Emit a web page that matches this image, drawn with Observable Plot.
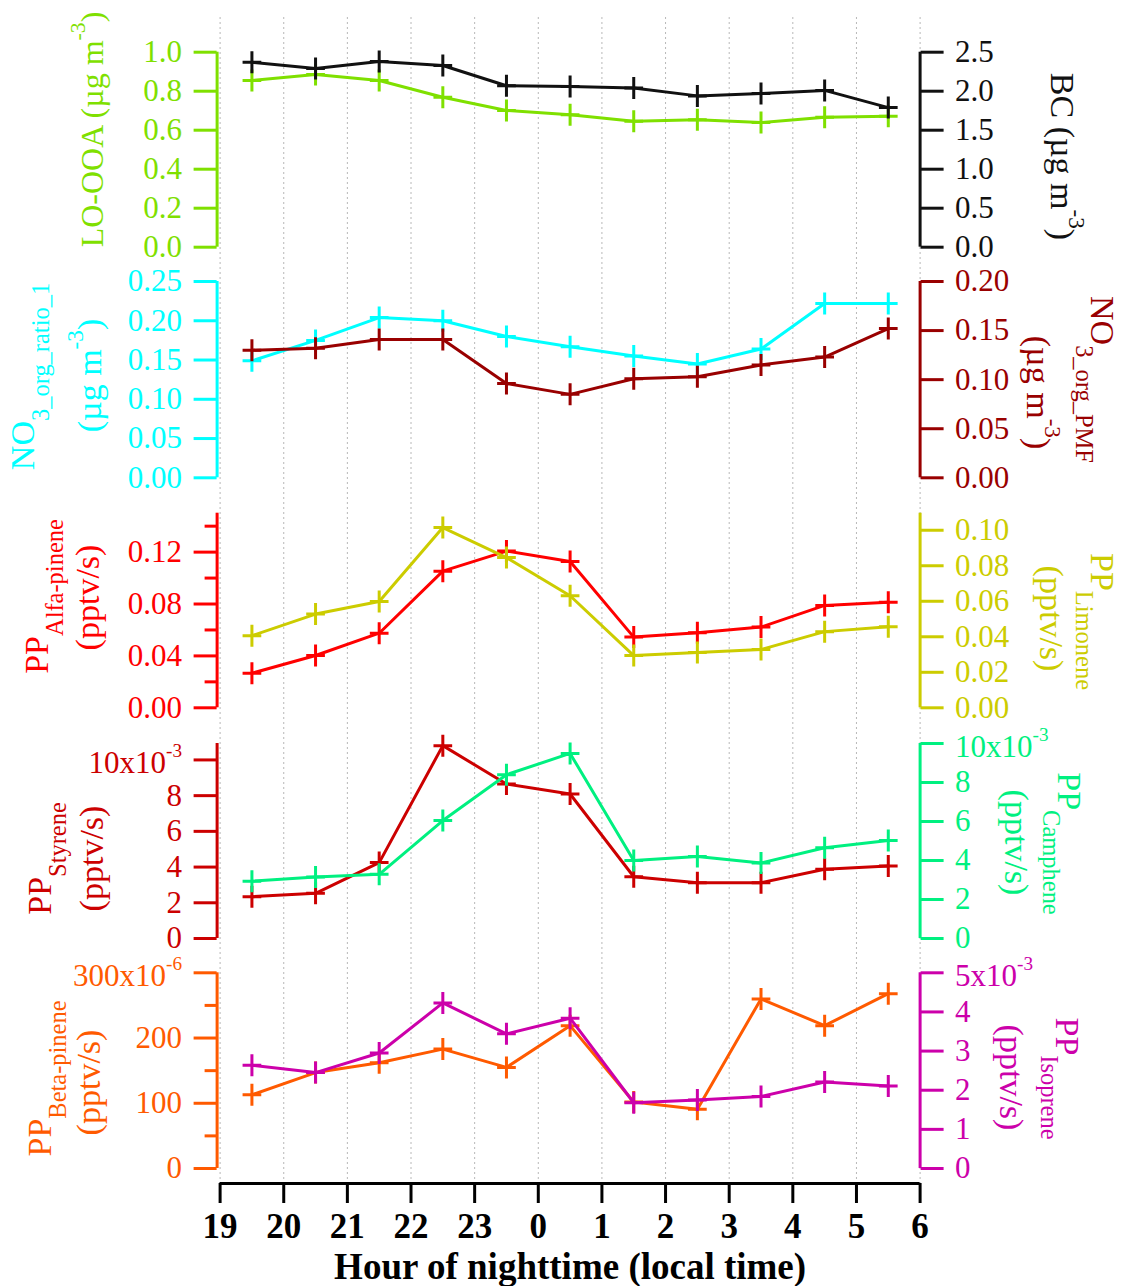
<!DOCTYPE html>
<html>
<head>
<meta charset="utf-8">
<script src="https://cdn.jsdelivr.net/npm/d3@7"></script>
<script src="https://cdn.jsdelivr.net/npm/@observablehq/plot@0.6"></script>
<style>
  body { margin: 0; background: #fff; }
  #chart { position: relative; width: 1121px; height: 1286px; font-family: "Liberation Serif", "Times New Roman", serif; }
  #chart svg { position: absolute; left: 0; top: 0; overflow: visible; }
  #chart svg, #chart svg text, #chart svg tspan, #chart svg g { font-family: "Liberation Serif", "Times New Roman", serif !important; font-variant: normal !important; }
</style>
</head>
<body>
<div id="chart"></div>
<script>
// ---------------- data ----------------
const hourLabels = ["19", "20", "21", "22", "23", "0", "1", "2", "3", "4", "5", "6"];
const hourMid = [0.5, 1.5, 2.5, 3.5, 4.5, 5.5, 6.5, 7.5, 8.5, 9.5, 10.5];
const xTitle = "Hour of nighttime (local time)";

const loOOA = [0.855, 0.886, 0.855, 0.769, 0.701, 0.679, 0.646, 0.653, 0.639, 0.667, 0.672];
const bc = [2.37, 2.29, 2.38, 2.33, 2.07, 2.06, 2.04, 1.94, 1.97, 2.01, 1.79];
const no3Ratio = [0.149, 0.175, 0.204, 0.200, 0.180, 0.167, 0.155, 0.145, 0.164, 0.222, 0.222];
const no3PMF = [0.130, 0.132, 0.141, 0.141, 0.096, 0.085, 0.101, 0.103, 0.115, 0.123, 0.152];
const alfaPinene = [0.0267, 0.0403, 0.0575, 0.1053, 0.1208, 0.1128, 0.0545, 0.0578, 0.0622, 0.0789, 0.0814];
const limonene = [0.0406, 0.0528, 0.0599, 0.1015, 0.0846, 0.0631, 0.0294, 0.0312, 0.0328, 0.0429, 0.0457];
const styrene = [2.34e-3, 2.53e-3, 4.25e-3, 10.8e-3, 8.65e-3, 8.09e-3, 3.46e-3, 3.12e-3, 3.12e-3, 3.88e-3, 4.06e-3];
const camphene = [2.94e-3, 3.15e-3, 3.29e-3, 6.05e-3, 8.40e-3, 9.49e-3, 4.00e-3, 4.21e-3, 3.87e-3, 4.65e-3, 5.03e-3];
const betaPinene = [113e-6, 147e-6, 162e-6, 183e-6, 155e-6, 219e-6, 102e-6, 91e-6, 260e-6, 219e-6, 268e-6];
const isoprene = [2.64e-3, 2.45e-3, 2.95e-3, 4.23e-3, 3.44e-3, 3.84e-3, 1.68e-3, 1.75e-3, 1.84e-3, 2.21e-3, 2.11e-3];

// tick values
const ticksLO = [0, 0.2, 0.4, 0.6, 0.8, 1.0];
const ticksBC = [0, 0.5, 1.0, 1.5, 2.0, 2.5];
const ticksRatio = [0, 0.05, 0.10, 0.15, 0.20, 0.25];
const ticksPMF = [0, 0.05, 0.10, 0.15, 0.20];
const ticksAlfa = [0, 0.04, 0.08, 0.12];
const ticksAlfaMinor = [0.02, 0.06, 0.10, 0.14];
const ticksLimonene = [0, 0.02, 0.04, 0.06, 0.08, 0.10];
const ticksStyrene = [0, 0.002, 0.004, 0.006, 0.008, 0.010];
const ticksCamphene = [0, 0.002, 0.004, 0.006, 0.008, 0.010];
const ticksBeta = [0, 100e-6, 200e-6, 300e-6];
const ticksBetaMinor = [50e-6, 150e-6, 250e-6];
const ticksIsoprene = [0, 1e-3, 2e-3, 3e-3, 4e-3, 5e-3];

// ---------------- layout / style ----------------
const W = 1121, H = 1286;
const ML = 219.6, MR = W - 919.6;
const FONT = "Liberation Serif, Times New Roman, serif";
const TICK_FS = 31, TITLE_FS = 34;

const sci = (top, label, mult) => d => Math.abs(d - top) < top * 1e-6 ? label : String(Math.round(d * mult));

const panels = [
  { top: 51.7, bottom: 246.7,
    left: { values: loOOA, color: "#7FE000", domain: [0, 1.0], ticks: ticksLO, fmt: ".1f",
            titles: [{ text: "LO-OOA (µg m^{-3})", x: 92, y: 129, fs: 32 }] },
    right: { values: bc, color: "#111111", domain: [0, 2.5], ticks: ticksBC, fmt: ".1f",
            titles: [{ text: "BC (µg m^{-3})", x: 1061, y: 156 }] } },
  { top: 281, bottom: 477.3,
    left: { values: no3Ratio, color: "#00FFFF", domain: [0, 0.25], ticks: ticksRatio, fmt: ".2f",
            titles: [{ text: "NO_{3_org_ratio_1}", x: 23, y: 376 }, { text: "(µg m^{-3})", x: 90, y: 375 }] },
    right: { values: no3PMF, color: "#990000", domain: [0, 0.20], ticks: ticksPMF, fmt: ".2f",
            titles: [{ text: "NO_{3_org_PMF}", x: 1101, y: 379 }, { text: "(µg m^{-3})", x: 1037, y: 392 }] } },
  { top: 512.7, bottom: 707.3,
    left: { values: alfaPinene, color: "#FF0000", domain: [0, 0.15], ticks: ticksAlfa, minor: ticksAlfaMinor, fmt: ".2f",
            titles: [{ text: "PP_{Alfa-pinene}", x: 37, y: 596 }, { text: "(pptv/s)", x: 88, y: 597 }] },
    right: { values: limonene, color: "#CCCC00", domain: [0, 0.1096], ticks: ticksLimonene, fmt: ".2f",
            titles: [{ text: "PP_{Limonene}", x: 1101, y: 621 }, { text: "(pptv/s)", x: 1050, y: 618 }] } },
  { top: 743, bottom: 938,
    left: { values: styrene, color: "#CC0000", domain: [0, 0.01092], ticks: ticksStyrene, fmt: sci(0.010, "10x10^{-3}", 1000),
            titles: [{ text: "PP_{Styrene}", x: 40, y: 858 }, { text: "(pptv/s)", x: 92, y: 858 }] },
    right: { values: camphene, color: "#00F080", domain: [0, 0.010], ticks: ticksCamphene, fmt: sci(0.010, "10x10^{-3}", 1000),
            titles: [{ text: "PP_{Camphene}", x: 1068, y: 843 }, { text: "(pptv/s)", x: 1015, y: 842 }] } },
  { top: 972.3, bottom: 1168,
    left: { values: betaPinene, color: "#FF5A00", domain: [0, 300e-6], ticks: ticksBeta, minor: ticksBetaMinor, fmt: sci(300e-6, "300x10^{-6}", 1e6),
            titles: [{ text: "PP_{Beta-pinene}", x: 40, y: 1078 }, { text: "(pptv/s)", x: 89, y: 1082 }] },
    right: { values: isoprene, color: "#CC00AA", domain: [0, 5e-3], ticks: ticksIsoprene, fmt: sci(5e-3, "5x10^{-3}", 1000),
            titles: [{ text: "PP_{Isoprene}", x: 1066, y: 1078 }, { text: "(pptv/s)", x: 1010, y: 1077 }] } }
];

// stroke-drawn "+" marker (slightly narrower than tall, as in the original)
const plusSymbol = {
  draw(ctx, size) {
    const r = Math.sqrt(size / Math.PI);
    ctx.moveTo(-0.85 * r, 0); ctx.lineTo(0.85 * r, 0);
    ctx.moveTo(0, -r); ctx.lineTo(0, r);
  }
};

// turn "a_{b}" / "a^{b}" into real sub/superscript tspans
function rich(svg) {
  const NS = "http://www.w3.org/2000/svg";
  svg.querySelectorAll("text").forEach(t => {
    if (t.querySelector("tspan")) return;
    const s = t.textContent;
    if (!/[_^]\{/.test(s)) return;
    const isTick = /x10\^/.test(s);          // exponent tick label: whole label centred on tick
    const base = isTick ? 0.1 : 0;
    const supSize = isTick ? 0.62 : 0.68;
    const supShift = isTick ? 0.5 : 0.55;
    t.textContent = "";
    let cur = 0;
    const add = (str, kind) => {
      if (!str) return;
      const ts = document.createElementNS(NS, "tspan");
      ts.textContent = str;
      let target, size = 1;
      if (kind === "sub") { size = 0.72; target = 0.42; }
      else if (kind === "sup") { size = supSize; target = base - supShift; }
      else { target = base; }
      if (size !== 1) ts.style.fontSize = size + "em";
      const d = target - cur;
      if (Math.abs(d) > 1e-6) ts.setAttribute("dy", (d / size).toFixed(3) + "em");
      cur = target;
      t.appendChild(ts);
    };
    const re = /([_^])\{([^}]*)\}/g;
    let last = 0, m;
    while ((m = re.exec(s))) {
      add(s.slice(last, m.index), "n");
      add(m[2], m[1] === "_" ? "sub" : "sup");
      last = re.lastIndex;
    }
    add(s.slice(last), "n");
  });
}

const style = { background: "transparent", fontFamily: FONT, overflow: "visible" };
const chart = document.getElementById("chart");

// ---------------- background: grid + x axis ----------------
const hourTicks = d3.range(hourLabels.length);
const bg = Plot.plot({
  width: W, height: H,
  marginLeft: ML, marginRight: MR, marginTop: 17, marginBottom: H - 1183,
  x: { domain: [0, 11] },
  y: { domain: [0, 1], axis: null },
  style,
  marks: [
    Plot.ruleX(hourTicks, { stroke: "#b8b8b8", strokeWidth: 1, strokeDasharray: "2,3" }),
    Plot.ruleY([0], { x1: 0, x2: 11, stroke: "#000", strokeWidth: 3 }),
    Plot.axisX(hourTicks, { anchor: "bottom", tickSize: 20, tickPadding: 10, strokeWidth: 3,
      tickFormat: i => hourLabels[i], fontSize: 35, fontWeight: "bold", fill: "#000", label: null }),
    Plot.text([xTitle], { frameAnchor: "bottom", dy: 84, fontSize: 37, fontWeight: "bold",
      lineAnchor: "middle", fill: "#000" })
  ]
});
chart.appendChild(bg);

// ---------------- panels (one SVG per side, overlaid) ----------------
function sidePlot(panel, s, side) {
  const data = hourMid.map((x, i) => ({ x, v: s.values[i] }));
  const edge = side === "left" ? 0 : 11;
  const off = side === "left" ? -3 : 0;
  const marks = [
    Plot.ruleX([edge], { y1: s.domain[0], y2: s.domain[1], stroke: s.color, strokeWidth: 3, dx: off }),
    Plot.axisY(s.ticks, { anchor: side, tickSize: 23, tickPadding: 12, tickFormat: s.fmt,
      color: s.color, strokeWidth: 3, fontSize: TICK_FS, label: null, dx: off })
  ];
  if (s.minor) {
    marks.push(Plot.axisY(s.minor, { anchor: side, tickSize: 12, tickFormat: () => "",
      color: s.color, strokeWidth: 3, label: null, dx: off }));
  }
  marks.push(
    Plot.line(data, { x: "x", y: "v", stroke: s.color, strokeWidth: 3 }),
    Plot.dot(data, { x: "x", y: "v", symbol: plusSymbol, r: 11, fill: "none", stroke: s.color, strokeWidth: 3 })
  );
  for (const tt of s.titles) {
    marks.push(Plot.text([tt.text], {
      frameAnchor: "top-left", dx: tt.x - ML, dy: tt.y - panel.top,
      rotate: side === "left" ? -90 : 90, fill: s.color, fontSize: tt.fs || TITLE_FS,
      textAnchor: "middle", lineAnchor: "middle"
    }));
  }
  const svg = Plot.plot({
    width: W, height: H,
    marginLeft: ML, marginRight: MR, marginTop: panel.top, marginBottom: H - panel.bottom,
    x: { domain: [0, 11], axis: null },
    y: { domain: s.domain },
    style,
    marks
  });
  rich(svg);
  return svg;
}

for (const p of panels) {
  chart.appendChild(sidePlot(p, p.left, "left"));
  chart.appendChild(sidePlot(p, p.right, "right"));
}
</script>
</body>
</html>
